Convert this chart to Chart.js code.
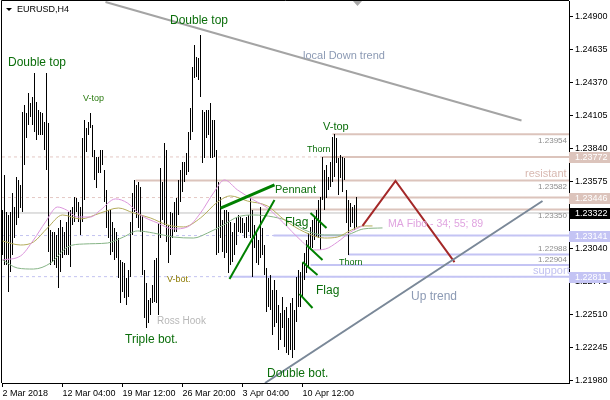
<!DOCTYPE html>
<html>
<head>
<meta charset="utf-8">
<script src="https://cdn.jsdelivr.net/npm/chart.js@4.4.1/dist/chart.umd.min.js"></script>
<style>
  html, body { margin: 0; padding: 0; background: #fff; }
  #wrap { width: 610px; height: 400px; }
</style>
</head>
<body>
<div id="wrap"><canvas id="grafico" width="610" height="400"></canvas></div>
<script>
// --- datos (EURUSD H4), una barra por indice ---
const barHigh = [
  1.23346, 1.23627, 1.23330, 1.23306, 1.23330, 1.23483, 1.23370, 1.23611, 1.23587, 1.23547,
  1.24133, 1.24189, 1.24125, 1.24286, 1.24205, 1.24254, 1.24446, 1.24213, 1.24149, 1.24133,
  1.24125, 1.24053, 1.24446, 1.24045, 1.23186, 1.23169, 1.23169, 1.23145, 1.23202, 1.23266,
  1.23210, 1.23169, 1.23250, 1.23330, 1.23346, 1.23370, 1.23451, 1.23443, 1.23410, 1.23370,
  1.23924, 1.24069, 1.24005, 1.24053, 1.24125, 1.24029, 1.23828, 1.23772, 1.23772, 1.23828,
  1.23828, 1.23667, 1.23507, 1.23346, 1.23346, 1.23250, 1.23202, 1.23169, 1.23121, 1.22945,
  1.22928, 1.22920, 1.22800, 1.22864, 1.23250, 1.23483, 1.23587, 1.23547, 1.23571, 1.23531,
  1.23306, 1.22864, 1.22760, 1.22624, 1.22640, 1.22744, 1.22945, 1.22960, 1.23242, 1.23683,
  1.23571, 1.23884, 1.23828, 1.23226, 1.23330, 1.23322, 1.23410, 1.23443, 1.23587, 1.23667,
  1.23732, 1.23732, 1.23804, 1.23973, 1.24165, 1.24494, 1.24671, 1.24575, 1.24567, 1.24751,
  1.24149, 1.24133, 1.24149, 1.24149, 1.24205, 1.24069, 1.24069, 1.23828, 1.23571, 1.23451,
  1.23266, 1.23346, 1.23346, 1.23330, 1.23250, 1.23169, 1.23242, 1.23290, 1.23306, 1.23290,
  1.23282, 1.23242, 1.23290, 1.23306, 1.23443, 1.23346, 1.23226, 1.23169, 1.23105, 1.23370,
  1.23202, 1.23065, 1.22880, 1.22800, 1.22824, 1.22704, 1.22784, 1.22704, 1.22584, 1.22519,
  1.22648, 1.22543, 1.22567, 1.22479, 1.22600, 1.22640, 1.22543, 1.22808, 1.22864, 1.22848,
  1.22920, 1.23000, 1.23105, 1.23161, 1.23210, 1.23266, 1.23290, 1.23346, 1.23427, 1.23451,
  1.23772, 1.23667, 1.23708, 1.23611, 1.23732, 1.23932, 1.23956, 1.23924, 1.23764, 1.23788,
  1.23772, 1.23764, 1.23507, 1.23427, 1.23402, 1.23370, 1.23386, 1.23451
];
const barLow = [
  1.22985, 1.22905, 1.22905, 1.22688, 1.22848, 1.22985, 1.23121, 1.23226, 1.23282, 1.23362,
  1.23330, 1.23708, 1.23924, 1.24029, 1.24093, 1.24029, 1.23973, 1.23908, 1.23948, 1.23948,
  1.23948, 1.23828, 1.23667, 1.23008, 1.22905, 1.22928, 1.22905, 1.22880, 1.22720, 1.22848,
  1.22960, 1.22985, 1.22985, 1.22985, 1.22888, 1.23226, 1.23250, 1.23330, 1.23250, 1.23145,
  1.23250, 1.23427, 1.23812, 1.23948, 1.24005, 1.23772, 1.23587, 1.23523, 1.23643, 1.23643,
  1.23708, 1.23410, 1.23202, 1.23121, 1.22985, 1.23008, 1.22945, 1.22960, 1.22800, 1.22600,
  1.22688, 1.22640, 1.22584, 1.22648, 1.22808, 1.23145, 1.23330, 1.23282, 1.23202, 1.23169,
  1.22824, 1.22479, 1.22399, 1.22439, 1.22503, 1.22600, 1.22608, 1.22600, 1.22503, 1.23121,
  1.23266, 1.23226, 1.23089, 1.22920, 1.22985, 1.23121, 1.23169, 1.23169, 1.23306, 1.23410,
  1.23491, 1.23571, 1.23627, 1.23651, 1.23908, 1.23973, 1.24406, 1.24414, 1.24390, 1.24254,
  1.23724, 1.23764, 1.23924, 1.23948, 1.23764, 1.23764, 1.23772, 1.22985, 1.23000, 1.23121,
  1.23008, 1.22960, 1.23000, 1.22840, 1.22905, 1.22928, 1.22985, 1.23065, 1.23169, 1.23161,
  1.23161, 1.23121, 1.23121, 1.23169, 1.23121, 1.22808, 1.23041, 1.22920, 1.22905, 1.22960,
  1.22985, 1.22824, 1.22527, 1.22567, 1.22543, 1.22343, 1.22407, 1.22439, 1.22222, 1.22303,
  1.22399, 1.22246, 1.22198, 1.22182, 1.22222, 1.22158, 1.22222, 1.22447, 1.22567, 1.22567,
  1.22640, 1.22784, 1.22840, 1.22888, 1.23025, 1.23041, 1.23105, 1.23129, 1.23121, 1.23025,
  1.23427, 1.23346, 1.23443, 1.23507, 1.23531, 1.23571, 1.23611, 1.23724, 1.23467, 1.23603,
  1.23491, 1.23587, 1.23242, 1.22985, 1.23210, 1.23242, 1.23186, 1.23210
];

// medias moviles (MA Fibo 34 / 55 / 89), puntos leidos {indice de barra, precio}
const ma34 = [
  {x: 0, y: 1.22945}, {x: 9, y: 1.22977}, {x: 15.5, y: 1.23105}, {x: 21.5, y: 1.23250},
  {x: 27.5, y: 1.23370}, {x: 32, y: 1.23346}, {x: 37.5, y: 1.23290}, {x: 44, y: 1.23290},
  {x: 49, y: 1.23346}, {x: 56.5, y: 1.23435}, {x: 62.5, y: 1.23402}, {x: 69, y: 1.23306},
  {x: 77.5, y: 1.23242}, {x: 85.5, y: 1.23194}, {x: 92.5, y: 1.23210}, {x: 99, y: 1.23322},
  {x: 105.5, y: 1.23483}, {x: 111, y: 1.23587}, {x: 117.5, y: 1.23507}, {x: 125.5, y: 1.23427},
  {x: 132.5, y: 1.23362}, {x: 140.5, y: 1.23242}, {x: 149, y: 1.23105}, {x: 155.5, y: 1.23025},
  {x: 161.5, y: 1.23033}, {x: 167.5, y: 1.23089}, {x: 174, y: 1.23169}, {x: 180, y: 1.23218}
];
const ma55 = [
  {x: 0, y: 1.23097}, {x: 9, y: 1.23065}, {x: 15.5, y: 1.23089}, {x: 22.5, y: 1.23202},
  {x: 30, y: 1.23306}, {x: 39, y: 1.23274}, {x: 49, y: 1.23322}, {x: 58, y: 1.23362},
  {x: 65.5, y: 1.23322}, {x: 74, y: 1.23282}, {x: 82.5, y: 1.23226}, {x: 90.5, y: 1.23210},
  {x: 99, y: 1.23282}, {x: 107.5, y: 1.23410}, {x: 114, y: 1.23459}, {x: 122.5, y: 1.23418},
  {x: 132.5, y: 1.23378}, {x: 141, y: 1.23266}, {x: 151, y: 1.23169}, {x: 161, y: 1.23121},
  {x: 167.5, y: 1.23129}, {x: 174.5, y: 1.23186}, {x: 180.5, y: 1.23218}, {x: 185, y: 1.23218}
];
const ma89 = [
  {x: 0, y: 1.22945}, {x: 7.5, y: 1.22880}, {x: 15.5, y: 1.22872}, {x: 24, y: 1.22920},
  {x: 32.5, y: 1.23049}, {x: 40.5, y: 1.23073}, {x: 52.5, y: 1.23081}, {x: 60.5, y: 1.23129},
  {x: 67.5, y: 1.23178}, {x: 75.5, y: 1.23161}, {x: 85.5, y: 1.23129}, {x: 95.5, y: 1.23121},
  {x: 102.5, y: 1.23161}, {x: 110.5, y: 1.23226}, {x: 117.5, y: 1.23290}, {x: 125.5, y: 1.23306},
  {x: 135.5, y: 1.23290}, {x: 144, y: 1.23250}, {x: 151, y: 1.23186}, {x: 161, y: 1.23145},
  {x: 171, y: 1.23145}, {x: 180.5, y: 1.23194}, {x: 190, y: 1.23202}
];

// niveles horizontales y desde que barra empiezan
const resistPrices = [1.23954, 1.23772, 1.23582, 1.23446, 1.23350];
const resistStart  = [165, 160, 66.5, 123.5, 124];
const supportPrices = [1.23141, 1.22988, 1.22904, 1.22811];
const supportStart  = [135.5, 173, 154, 113];
const dashedResist  = [1.23772, 1.23446];
const dashedSupport = [1.23141, 1.22811];
const lastPrice = 1.23322;

// lineas de tendencia / figuras
const downTrend = [{x: 51.5, y: 1.25016}, {x: 259.5, y: 1.24064}];
const upTrend   = [{x: 131.25, y: 1.21957}, {x: 270, y: 1.23418}];
const zigzag    = [{x: 180, y: 1.23218}, {x: 196.5, y: 1.23579}, {x: 226, y: 1.22928}];
const pennantTop = [{x: 109, y: 1.23362}, {x: 136, y: 1.23547}];
const pennantBot = [{x: 113.5, y: 1.22792}, {x: 136, y: 1.23427}];
const flagLines = [
  [{x: 154, y: 1.23322}, {x: 162, y: 1.23202}],
  [{x: 152, y: 1.23065}, {x: 160, y: 1.22945}],
  [{x: 150, y: 1.22928}, {x: 157.5, y: 1.22824}],
  [{x: 148.5, y: 1.22672}, {x: 155, y: 1.22559}]
];

// ejes
const xTickIdx = [0, 30, 60, 90, 120, 150];
const xTickLabels = ['2 Mar 2018', '12 Mar 04:00', '19 Mar 12:00', '26 Mar 20:00', '3 Apr 04:00', '10 Apr 12:00'];
const yTicks = [1.21980, 1.22245, 1.22510, 1.22775, 1.23040, 1.23307, 1.23575, 1.23840, 1.24105, 1.24370, 1.24635, 1.24900];

const X_MIN = -0.25, X_MAX = 283.25;
const FONT = '"Liberation Sans", Arial, sans-serif';

const GREEN_TXT = '#0b6e0b';
const PINK_LINE = '#dcc4bc';
const LAV_LINE = '#c4c4f4';

function lineDs(data, color, width, order, extra) {
  return Object.assign({
    type: 'line', data: data, borderColor: color, borderWidth: width,
    pointRadius: 0, fill: false, tension: 0, order: order
  }, extra || {});
}

function buildDatasets() {
  const ds = [];

  // lineas punteadas de fondo
  dashedResist.forEach(p => ds.push(lineDs([{x: X_MIN, y: p}, {x: X_MAX, y: p}], '#e4c8c4', 1, 9, {borderDash: [3, 3]})));
  dashedSupport.forEach(p => ds.push(lineDs([{x: X_MIN, y: p}, {x: X_MAX, y: p}], '#c4c4f0', 1, 9, {borderDash: [3, 3]})));
  ds.push(lineDs([{x: X_MIN, y: lastPrice}, {x: X_MAX, y: lastPrice}], '#c0c0c0', 1, 9));

  // niveles solidos
  resistPrices.forEach((p, i) => ds.push(lineDs([{x: resistStart[i], y: p}, {x: X_MAX, y: p}], PINK_LINE, 2, 8)));
  supportPrices.forEach((p, i) => ds.push(lineDs([{x: supportStart[i], y: p}, {x: X_MAX, y: p}], LAV_LINE, 2, 8)));

  // barras (solo maximo-minimo)
  ds.push({
    type: 'bar',
    data: barHigh.map((h, i) => ({x: i, y: [barLow[i], h]})),
    backgroundColor: '#000',
    borderWidth: 0,
    barThickness: 1,
    inflateAmount: 0,
    grouped: false,
    order: 5
  });

  // medias
  ds.push(lineDs(ma34, '#dc96dc', 1, 3, {cubicInterpolationMode: 'monotone'}));
  ds.push(lineDs(ma55, '#b4ac5c', 1, 3, {cubicInterpolationMode: 'monotone'}));
  ds.push(lineDs(ma89, '#86b486', 1, 3, {cubicInterpolationMode: 'monotone'}));

  // tendencias y figuras
  ds.push(lineDs(downTrend, '#a4a4a4', 2, 1));
  ds.push(lineDs(upTrend, '#7a8898', 2, 1));
  ds.push(lineDs(zigzag, '#a42828', 2, 1));
  ds.push(lineDs(pennantTop, '#008000', 3, 1));
  ds.push(lineDs(pennantBot, '#008000', 2, 1));
  flagLines.forEach(f => ds.push(lineDs(f, '#008000', 2, 1)));
  return ds;
}

// textos del grafico (posiciones en pixeles)
const notas = [
  ['Double top', 8, 63, 12, GREEN_TXT],
  ['Double top', 170, 21, 12, GREEN_TXT],
  ['V-top', 83, 99, 9, '#2a7a10'],
  ['local Down trend', 303, 56, 11, '#8c9ab4'],
  ['V-top', 323, 127, 11, GREEN_TXT],
  ['Thorn', 307, 150, 9, GREEN_TXT],
  ['Pennant', 275, 190, 11, GREEN_TXT],
  ['Flag', 285, 223, 12, GREEN_TXT],
  ['resistant', 525, 174, 11, '#d8b8b0'],
  ['MA Fibo - 34; 55; 89', 388, 224, 10.5, '#e0a4e0'],
  ['Thorn', 339, 263, 9, GREEN_TXT],
  ['Flag', 316, 291, 12, GREEN_TXT],
  ['V-bot.', 167, 280, 9, '#8c7a00'],
  ['Ross Hook', 157, 321, 10, '#b8b8b8'],
  ['Triple bot.', 125, 340, 12, GREEN_TXT],
  ['Up trend', 411, 297, 12, '#8c9ab4'],
  ['Double bot.', 267, 374, 12, GREEN_TXT],
  ['support', 533, 271, 11, '#c0c0f0']
];
// etiquetas pequeñas de precio junto a los niveles (desplazamiento vertical)
const smallTags = [[1.23954, 7], [1.23582, 6], [1.23350, 6], [1.22988, -6], [1.22904, -5]];

const extras = {
  id: 'extras',
  afterDraw(chart) {
    const {ctx, chartArea: a, scales: {y}} = chart;
    ctx.save();

    // marco superior e izquierdo
    ctx.strokeStyle = '#000';
    ctx.lineWidth = 1;
    ctx.beginPath();
    ctx.moveTo(a.left - 0.5, a.bottom);
    ctx.lineTo(a.left - 0.5, a.top - 0.5);
    ctx.lineTo(a.right, a.top - 0.5);
    ctx.stroke();

    // titulo
    ctx.fillStyle = '#000';
    ctx.beginPath();
    ctx.moveTo(6, 8); ctx.lineTo(12, 8); ctx.lineTo(9, 11); ctx.closePath();
    ctx.fill();
    ctx.font = '9px ' + FONT;
    ctx.textBaseline = 'middle';
    ctx.textAlign = 'left';
    ctx.fillText('EURUSD,H4', 17, 10);

    // marca de desplazamiento
    ctx.fillStyle = '#a8a8a8';
    ctx.beginPath();
    ctx.moveTo(353, 1); ctx.lineTo(362, 1); ctx.lineTo(357.5, 6); ctx.closePath();
    ctx.fill();

    // textos
    notas.forEach(([t, x, yy, size, color]) => {
      ctx.font = size + 'px ' + FONT;
      ctx.fillStyle = color;
      ctx.fillText(t, x, yy);
    });

    // etiquetas pequeñas
    ctx.font = '8px ' + FONT;
    ctx.fillStyle = '#8c8c8c';
    ctx.textAlign = 'right';
    smallTags.forEach(([p, dy]) => ctx.fillText(p.toFixed(5), 567, y.getPixelForValue(p) + dy));

    // cajas de precio en el eje derecho
    const boxes = [
      [1.23772, PINK_LINE], [1.23446, PINK_LINE],
      [1.23141, LAV_LINE], [1.22811, LAV_LINE], [lastPrice, '#000']
    ];
    ctx.font = '9px ' + FONT;
    ctx.textAlign = 'left';
    boxes.forEach(([p, bg]) => {
      const py = Math.round(y.getPixelForValue(p));
      ctx.fillStyle = bg;
      ctx.fillRect(a.right, py - 5, 610 - a.right, 11);
      ctx.fillStyle = '#fff';
      ctx.fillText(p.toFixed(5), 575, py + 0.5);
    });

    ctx.restore();
  }
};

function initChart() {
  const ctx = document.getElementById('grafico').getContext('2d');
  new Chart(ctx, {
    type: 'bar',
    data: { datasets: buildDatasets() },
    options: {
      responsive: false,
      animation: false,
      devicePixelRatio: 1,
      layout: { padding: { left: 2, top: 1, right: 0, bottom: 0 } },
      plugins: { legend: { display: false }, tooltip: { enabled: false } },
      scales: {
        x: {
          type: 'linear',
          min: X_MIN,
          max: X_MAX,
          offset: false,
          grid: { drawOnChartArea: false, tickLength: 4, tickColor: '#000', offset: false },
          border: { display: true, color: '#000' },
          ticks: {
            autoSkip: false, maxRotation: 0, align: 'start', padding: 1,
            color: '#000', font: { family: FONT, size: 9 },
            callback: v => {
              const k = xTickIdx.indexOf(v);
              return k >= 0 ? xTickLabels[k] : '';
            }
          },
          afterBuildTicks: s => { s.ticks = xTickIdx.map(v => ({ value: v })); },
          afterFit: s => { s.height = 17; s.paddingLeft = 0; s.paddingRight = 0; }
        },
        y: {
          type: 'linear',
          position: 'right',
          min: 1.21957,
          max: 1.25024,
          grid: { drawOnChartArea: false, tickLength: 4, tickColor: '#000' },
          border: { display: true, color: '#000' },
          ticks: {
            padding: 2, color: '#000', font: { family: FONT, size: 9 },
            callback: v => v.toFixed(5)
          },
          afterBuildTicks: s => { s.ticks = yTicks.map(v => ({ value: v })); },
          afterFit: s => { s.width = 41; s.paddingTop = 0; s.paddingBottom = 0; }
        }
      }
    },
    plugins: [extras]
  });
}

document.addEventListener('DOMContentLoaded', initChart);
</script>
</body>
</html>
